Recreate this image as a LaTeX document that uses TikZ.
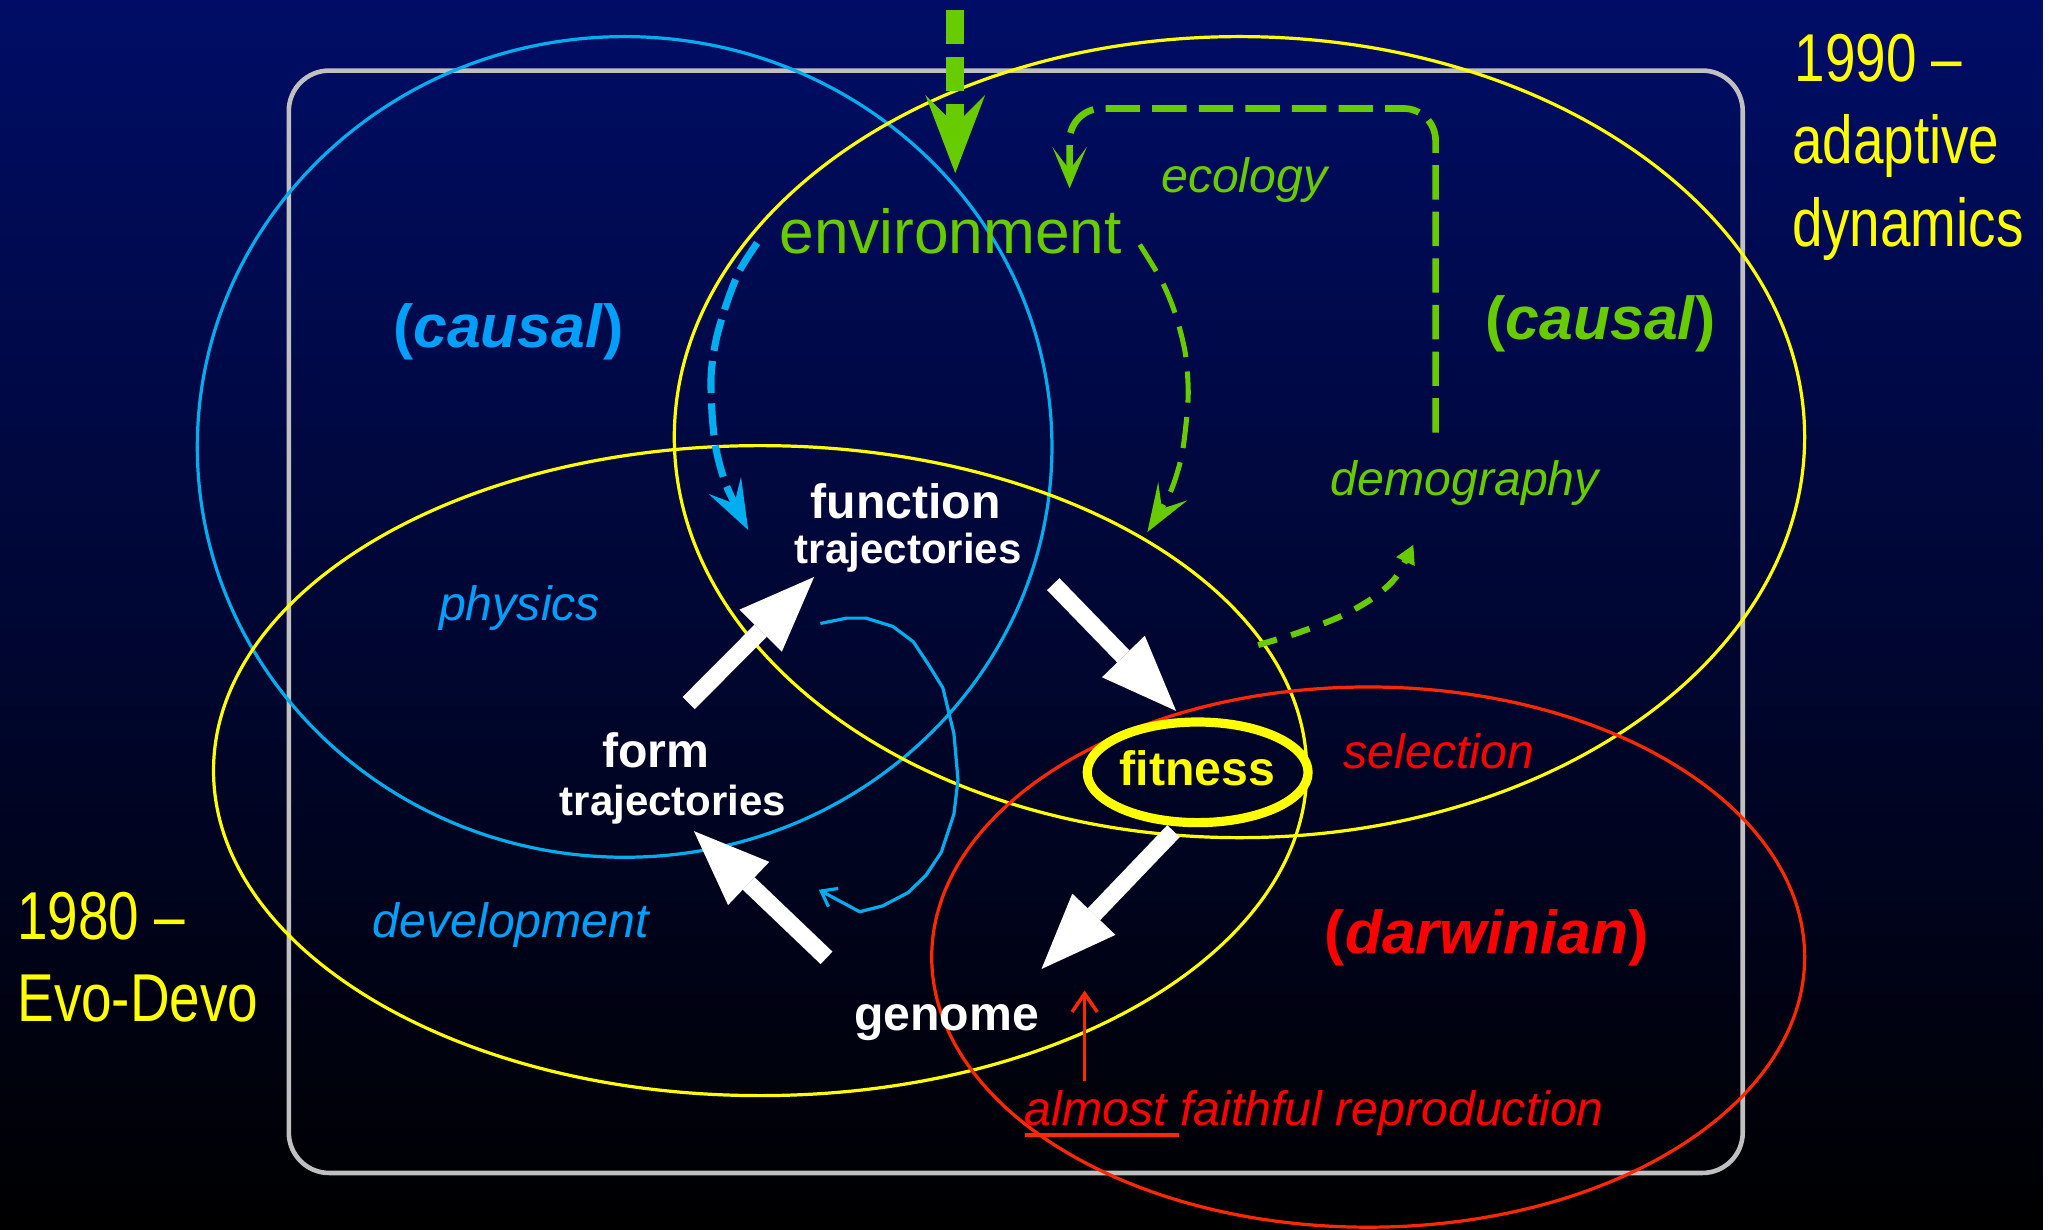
\documentclass[tikz,border=0pt]{standalone}
\usepackage{fontspec}
\setmainfont{Liberation Sans}
\newfontfamily\narrowfont{Liberation Sans}[FakeStretch=0.81]
\usetikzlibrary{arrows.meta}
\definecolor{bgtop}{RGB}{0,13,102}
\definecolor{bgmid}{RGB}{0,7,62}
\definecolor{cblue}{RGB}{0,174,239}
\definecolor{tblue}{RGB}{0,160,250}
\definecolor{cgreen}{RGB}{102,204,0}
\definecolor{cyellow}{RGB}{255,255,0}
\definecolor{cred}{RGB}{255,40,0}
\definecolor{tred}{RGB}{255,0,0}
\definecolor{cgray}{RGB}{192,192,192}
\begin{document}
\begin{tikzpicture}[x=0.02cm,y=-0.02cm,
  ring/.style={line width=1.4pt},
  txt/.style={inner sep=0pt, anchor=base},
  bigarrow/.style={draw=white, line width=7.5pt, -{Triangle[length=33pt,width=26pt,line width=0pt]}},
  bdash/.style={draw=cblue, line width=3.1pt, dash pattern=on 14pt off 4.5pt, -{Stealth[length=22pt,width=16pt,inset=9pt,line width=0pt]}},
  gdashA/.style={draw=cgreen, line width=2.2pt, dash pattern=on 13.6pt off 6.3pt, -{Stealth[length=21pt,width=15pt,inset=9pt,line width=0pt]}},
  gbig/.style={draw=cgreen, line width=7.8pt, dash pattern=on 14.8pt off 5.5pt, -{Stealth[length=34pt,width=26pt,inset=13pt,line width=0pt]}},
  gloop/.style={draw=cgreen, line width=2.9pt, dash pattern=on 15pt off 5.3pt, rounded corners=14pt, -{Stealth[length=18pt,width=15pt,inset=10pt,line width=0pt]}},
  gsmall/.style={draw=cgreen, line width=2.6pt, dash pattern=on 8.5pt off 6.5pt, -{Triangle[length=8pt,width=9pt,line width=0pt]}},
  curly/.style={draw=cblue, line width=1.4pt, line join=round, -{Straight Barb[length=6pt,width=9pt]}},
  redarrow/.style={draw=cred, line width=1.5pt, -{Straight Barb[length=8pt,width=11pt]}},
  yearfont/.style={font=\narrowfont\fontsize{29.5}{35}\selectfont, text=cyellow},
  itlabel/.style={font=\itshape\fontsize{21}{25}\selectfont},
  bflabel/.style={font=\bfseries\fontsize{21}{25}\selectfont, text=white},
  bfsmall/.style={font=\bfseries\fontsize{18.3}{22}\selectfont, text=white},
  paren/.style={font=\bfseries\fontsize{26.4}{31}\selectfont}
]
\useasboundingbox (0,0) rectangle (1568,941);
\shade[top color=bgtop, middle color=bgmid, bottom color=black] (0,0) rectangle (1568,941);
\fill[white] (1563.5,0) rectangle (1568,941);

% frame
\draw[cgray, line width=2pt, rounded corners=17.6pt] (221,54) rectangle (1333.6,897.6);

% rings
\draw[ring, cblue] (478,342) ellipse [x radius=327, y radius=314];
\draw[ring, cyellow] (948.5,334.5) ellipse [x radius=432.5, y radius=306.5];
\draw[ring, cyellow] (581.7,589.7) ellipse [x radius=418.3, y radius=248.7];
\draw[ring, cred] (1047,732.4) ellipse [x radius=334, y radius=206.7];
\draw[cyellow, line width=4pt] (916.5,591) ellipse [x radius=84.5, y radius=38.5];

% coordinates
\coordinate (gtop) at (731,8);
\coordinate (gtip) at (731,132.5);
\coordinate (bS) at (579.4,185.9);
\coordinate (bE) at (572.6,405.6);
\coordinate (eS) at (872.2,187.2);
\coordinate (eE) at (878,407.2);
\coordinate (lS) at (1098.6,331);
\coordinate (lE) at (818.5,144.1);
\coordinate (dS) at (962.8,493.6);
\coordinate (dE) at (1081.5,417);
\coordinate (a1s) at (527,538);
\coordinate (a1e) at (623,441.5);
\coordinate (a2s) at (806,447);
\coordinate (a2e) at (900,544);
\coordinate (a3s) at (898,636);
\coordinate (a3e) at (797,741.5);
\coordinate (a4s) at (632.5,733);
\coordinate (a4e) at (531,636);
\coordinate (rS) at (830,827.6);
\coordinate (rE) at (830,758);
\coordinate (uS) at (784,868.5);
\coordinate (uE) at (902,868.5);

% green/blue dashed connectors
\draw[gbig] (gtop) -- (gtip);
\draw[bdash] plot[smooth] coordinates {(bS) (566,207) (556,232.3) (548,260) (544.2,287) (545,318) (548.1,344.4) (556,372) (bE)};
\draw[gdashA] plot[smooth] coordinates {(eS) (889,215) (899.5,240.5) (907,270) (909.3,300.6) (907,330) (903.4,352.6) (895,378) (eE)};
\draw[gloop] (lS) -- (1098.6,83) -- (818.5,83) -- (lE);
\draw[gsmall] plot[smooth] coordinates {(dS) (992.3,484.6) (1025.4,471.9) (1050,458) (1068,442) (dE)};

% white block arrows
\draw[bigarrow] (a1s) -- (a1e);
\draw[bigarrow] (a2s) -- (a2e);
\draw[bigarrow] (a3s) -- (a3e);
\draw[bigarrow] (a4s) -- (a4e);

% curly blue arrow
\draw[curly] plot coordinates {(627.8,477.1) (648,473) (662.7,473) (683.3,479.4) (698.9,491.1) (710.6,508.7) (721.5,526.3) (730,561.5) (733.1,596.6) (730,622.9) (720.3,652.2) (708.6,669.8) (695,683) (675.5,693.2) (657.9,697.7) (626.6,680.9)};

% red arrow and underline
\draw[redarrow] (rS) -- (rE);
\draw[cred, line width=1.6pt] (uS) -- (uE);

% texts
\node[txt, anchor=base west, yearfont] (y90a) at (1373,62.5) {1990 –};
\node[txt, anchor=base west, yearfont] (y90b) at (1371,125) {adaptive};
\node[txt, anchor=base west, yearfont] (y90c) at (1371,188.8) {dynamics};
\node[txt, anchor=base west, yearfont] (y80a) at (13,719) {1980 –};
\node[txt, anchor=base west, yearfont] (y80b) at (13,782) {Evo-Devo};

\node[txt, text=cgreen, font=\fontsize{27.1}{32}\selectfont] (env) at (727.5,194) {environment};
\node[txt, itlabel, text=cgreen] (eco) at (952.2,147.6) {ecology};
\node[txt, itlabel, text=cgreen] (demo) at (1121,378.8) {demography};
\node[txt, paren, text=tblue] (caus1) at (389,266) {(\textit{causal})};
\node[txt, paren, text=cgreen] (caus2) at (1225,259.5) {(\textit{causal})};
\node[txt, paren, text=tred] (darw) at (1137.6,729.8) {(\textit{darwinian})};
\node[txt, itlabel, text=tblue] (phys) at (397.6,474.8) {physics};
\node[txt, itlabel, text=tblue] (dev) at (391,717.2) {development};
\node[txt, itlabel, text=tred] (sel) at (1101,588) {selection};
\node[txt, itlabel, text=tred, anchor=base west] (afr) at (784,861.6) {almost faithful reproduction};

\node[txt, bflabel] (func) at (693,396.6) {function};
\node[txt, bfsmall] (ftraj) at (695,431) {trajectories};
\node[txt, bflabel] (form) at (502,587) {form};
\node[txt, bfsmall] (mtraj) at (515,624) {trajectories};
\node[txt, bflabel] (gen) at (724.3,788.4) {genome};
\node[txt, bflabel, text=cyellow] (fit) at (916.4,600.9) {fitness};
\end{tikzpicture}
\end{document}
